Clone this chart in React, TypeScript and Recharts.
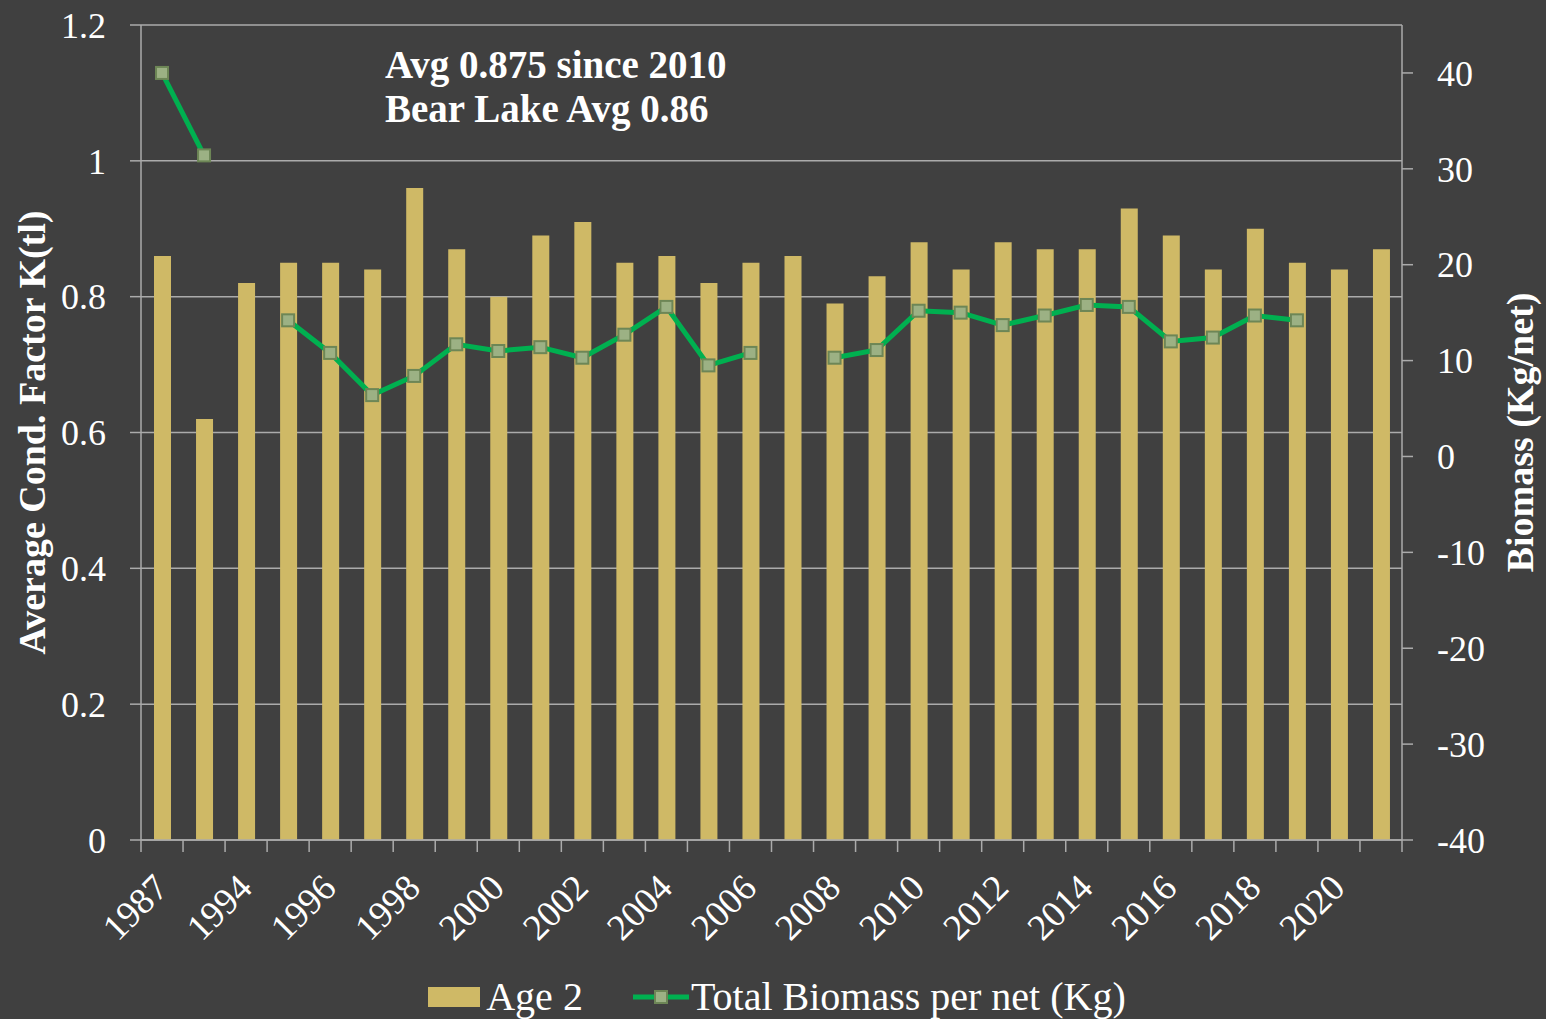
import React from 'react';
import {
  ComposedChart,
  Bar,
  Line,
  XAxis,
  YAxis,
  CartesianGrid,
  Legend,
  Customized,
} from 'recharts';

const years = [
  '1987', '1993', '1994', '1995', '1996', '1997', '1998', '1999', '2000', '2001',
  '2002', '2003', '2004', '2005', '2006', '2007', '2008', '2009', '2010', '2011',
  '2012', '2013', '2014', '2015', '2016', '2017', '2018', '2019', '2020', '2021',
];

const age2 = [
  0.86, 0.62, 0.82, 0.85, 0.85, 0.84, 0.96, 0.87, 0.8, 0.89,
  0.91, 0.85, 0.86, 0.82, 0.85, 0.86, 0.79, 0.83, 0.88, 0.84,
  0.88, 0.87, 0.87, 0.93, 0.89, 0.84, 0.9, 0.85, 0.84, 0.87,
];

const biomass: (number | null)[] = [
  40.0, 31.4, null, 14.2, 10.8, 6.4, 8.4, 11.7, 11.0, 11.4,
  10.3, 12.7, 15.6, 9.5, 10.8, null, 10.3, 11.1, 15.2, 15.0,
  13.7, 14.7, 15.8, 15.6, 12.0, 12.4, 14.7, 14.2, null, null,
];

const leftTicks = [0, 0.2, 0.4, 0.6, 0.8, 1, 1.2];
const rightTicks = [-40, -30, -20, -10, 0, 10, 20, 30, 40];

const annotationLines = ['Avg 0.875 since 2010', 'Bear Lake Avg 0.86'];

const data = years.map((year, i) => ({ year, age2: age2[i], biomass: biomass[i] }));

const BG = '#404040';
const BAR = '#CFB966';
const LINE = '#00B050';
const MARK_FILL = '#9CB184';
const MARK_STROKE = '#6D8656';
const GRID = '#ABABAB';
const FONT = 'Liberation Serif';

const XTick = (props: any) => {
  const { x, y, payload, index, visibleTicksCount } = props;
  const half = payload.offset || 0;
  const isLast = index === visibleTicksCount - 1;
  return (
    <g>
      <line x1={x - half} x2={x - half} y1={y} y2={y + 12} stroke={GRID} strokeWidth={1.5} />
      {isLast && (
        <line x1={x + half} x2={x + half} y1={y} y2={y + 12} stroke={GRID} strokeWidth={1.5} />
      )}
      {index % 2 === 0 && (
        <g transform={`translate(${x + 8},${y + 50})`}>
          <text
            transform="rotate(-45)"
            textAnchor="end"
            fill="#FFFFFF"
            fontSize={37}
            fontFamily={FONT}
          >
            {payload.value}
          </text>
        </g>
      )}
    </g>
  );
};

const SquareDot = (props: any) => {
  const { cx, cy, value, index } = props;
  if (value == null || cx == null || cy == null) return <g key={`d-${index}`} />;
  return (
    <rect
      key={`d-${index}`}
      x={cx - 6}
      y={cy - 6}
      width={12}
      height={12}
      fill={MARK_FILL}
      stroke={MARK_STROKE}
      strokeWidth={2}
    />
  );
};

const LeftTitle = (props: any) => {
  const { viewBox } = props;
  const cx = viewBox.x + 45;
  const cy = viewBox.y + viewBox.height / 2;
  return (
    <text
      x={cx}
      y={cy}
      transform={`rotate(-90, ${cx}, ${cy})`}
      textAnchor="middle"
      fill="#FFFFFF"
      fontSize={38}
      fontWeight="bold"
      fontFamily={FONT}
    >
      Average Cond. Factor K(tl)
    </text>
  );
};

const RightTitle = (props: any) => {
  const { viewBox } = props;
  const cx = viewBox.x + 131;
  const cy = viewBox.y + viewBox.height / 2;
  return (
    <text
      x={cx}
      y={cy}
      transform={`rotate(-90, ${cx}, ${cy})`}
      textAnchor="middle"
      fill="#FFFFFF"
      fontSize={38}
      fontWeight="bold"
      fontFamily={FONT}
    >
      Biomass (Kg/net)
    </text>
  );
};

const Annotation = () => (
  <g>
    {annotationLines.map((t, i) => (
      <text
        key={t}
        x={385}
        y={78 + i * 44}
        fill="#FFFFFF"
        fontSize={39}
        fontWeight="bold"
        fontFamily={FONT}
      >
        {t}
      </text>
    ))}
  </g>
);

const LegendBox = () => (
  <div
    style={{
      height: 44,
      display: 'flex',
      justifyContent: 'center',
      alignItems: 'center',
      fontFamily: FONT,
      fontSize: 40,
      color: '#FFFFFF',
      lineHeight: '44px',
      paddingLeft: 8,
    }}
  >
    <span style={{ display: 'inline-block', width: 52, height: 20, background: BAR, marginRight: 6 }} />
    <span>Age 2</span>
    <svg width={56} height={20} style={{ marginLeft: 50, marginRight: 2 }}>
      <line x1={0} x2={56} y1={10} y2={10} stroke={LINE} strokeWidth={5} />
      <rect x={22} y={4} width={12} height={12} fill={MARK_FILL} stroke={MARK_STROKE} strokeWidth={2} />
    </svg>
    <span>Total Biomass per net (Kg)</span>
  </div>
);

export default function App() {
  return (
    <div
      style={{
        position: 'absolute',
        left: 0,
        top: 0,
        width: 1546,
        height: 1019,
        background: BG,
        fontFamily: FONT,
        overflow: 'hidden',
      }}
    >
      <ComposedChart
        width={1546}
        height={1019}
        data={data}
        margin={{ top: 25, right: 0, bottom: 0, left: 0 }}
      >
        <CartesianGrid
          yAxisId="left"
          vertical={false}
          stroke={GRID}
          strokeWidth={1.5}
        />
        <XAxis
          dataKey="year"
          interval={0}
          tickSize={0}
          tickMargin={0}
          tickLine={false}
          height={135}
          axisLine={{ stroke: GRID, strokeWidth: 1.5 }}
          tick={<XTick />}
        />
        <YAxis
          yAxisId="left"
          orientation="left"
          width={141}
          domain={[0, 1.2]}
          ticks={leftTicks}
          interval={0}
          tickSize={11}
          tickMargin={24}
          axisLine={{ stroke: GRID, strokeWidth: 1.5 }}
          tickLine={{ stroke: GRID, strokeWidth: 1.5 }}
          tick={{ fill: '#FFFFFF', fontSize: 36, fontFamily: FONT }}
          label={<LeftTitle />}
        />
        <YAxis
          yAxisId="right"
          orientation="right"
          width={144}
          domain={[-40, 45]}
          ticks={rightTicks}
          interval={0}
          tickSize={11}
          tickMargin={24}
          axisLine={{ stroke: GRID, strokeWidth: 1.5 }}
          tickLine={{ stroke: GRID, strokeWidth: 1.5 }}
          tick={{ fill: '#FFFFFF', fontSize: 36, fontFamily: FONT }}
          label={<RightTitle />}
        />
        <Bar
          yAxisId="left"
          dataKey="age2"
          name="Age 2"
          fill={BAR}
          barSize={17}
          isAnimationActive={false}
        />
        <Line
          yAxisId="right"
          dataKey="biomass"
          name="Total Biomass per net (Kg)"
          stroke={LINE}
          strokeWidth={5}
          connectNulls={false}
          dot={<SquareDot />}
          activeDot={false}
          isAnimationActive={false}
        />
        <Customized component={Annotation} />
        <Legend verticalAlign="bottom" height={44} content={() => <LegendBox />} />
      </ComposedChart>
    </div>
  );
}
